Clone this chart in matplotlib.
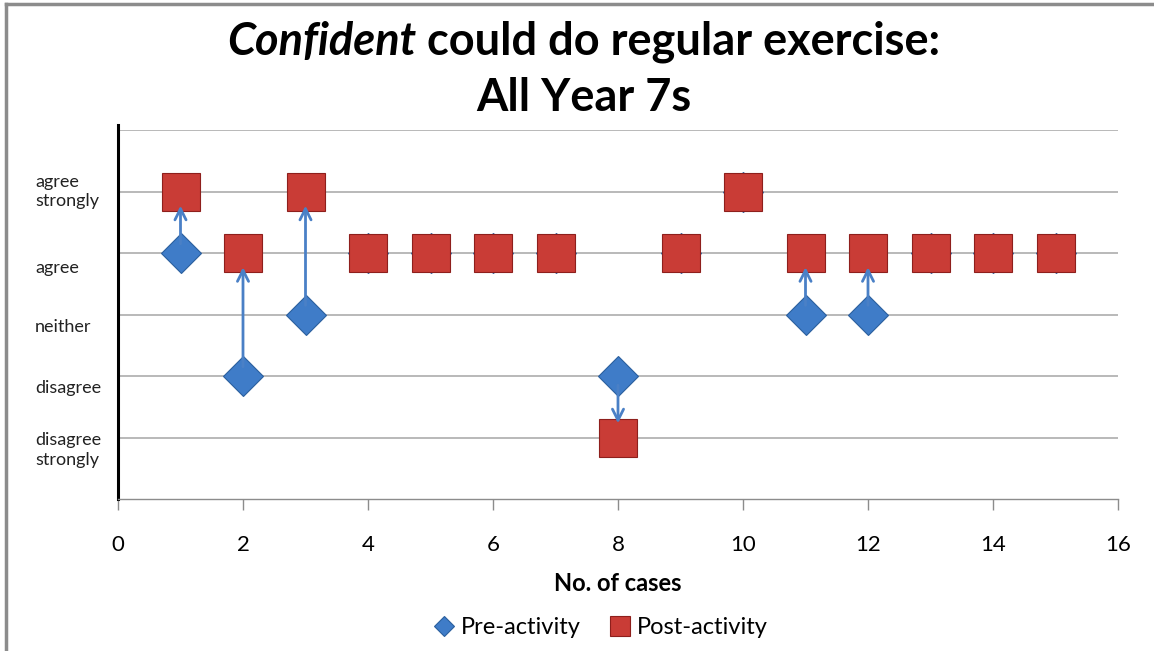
import matplotlib.pyplot as plt
from matplotlib.lines import Line2D

# survey scale: 1 = disagree strongly ... 5 = agree strongly
categories = ['disagree\nstrongly', 'disagree', 'neither', 'agree', 'agree\nstrongly']
cases = [1, 2, 3, 4, 5, 6, 7, 8, 9, 10, 11, 12, 13, 14, 15]
pre_activity = [4, 2, 3, 4, 4, 4, 4, 2, 4, 5, 3, 3, 4, 4, 4]
post_activity = [5, 4, 5, 4, 4, 4, 4, 1, 4, 5, 4, 4, 4, 4, 4]
x_ticks = [0, 2, 4, 6, 8, 10, 12, 14, 16]

plt.rcParams['font.family'] = ['Lato', 'DejaVu Sans']

fig = plt.figure(figsize=(11.54, 6.51), dpi=100)
ax = fig.add_axes([118 / 1154, 1 - 499 / 651, 1000 / 1154, 369 / 651])

blue = '#3f7cc8'
blue_edge = '#2b5f9e'
red = '#c93c36'
red_edge = '#8e1f1c'

# horizontal gridlines
ax.set_ylim(0, 6)
ax.set_yticks(range(1, 7))
ax.yaxis.grid(True, color='#a6a6a6', linewidth=1.1)
ax.tick_params(axis='y', length=0, labelleft=False)
ax.set_axisbelow(True)

ax.plot(cases, pre_activity, linestyle='none', marker='D', markersize=20,
        color=blue, markeredgecolor=blue_edge, markeredgewidth=0.8, zorder=3,
        label='Pre-activity')
ax.plot(cases, post_activity, linestyle='none', marker='s', markersize=27.5,
        color=red, markeredgecolor=red_edge, markeredgewidth=0.8, zorder=4,
        label='Post-activity')

# arrows where the answer changed
for c, a, b in zip(cases, pre_activity, post_activity):
    if a == b:
        continue
    d = 1 if b > a else -1
    ax.annotate('', xy=(c, b - d * 0.23), xytext=(c, a + d * 0.15),
                arrowprops=dict(arrowstyle='->,head_length=0.8,head_width=0.4',
                                color='#4a80c6', lw=2.0, shrinkA=0, shrinkB=0),
                zorder=5)

# category labels sit a little below their gridline
label_pos = [0.8, 1.8, 2.8, 3.76, 5.0]
for txt, yp in zip(categories, label_pos):
    ax.text(-0.083, yp, txt, transform=ax.get_yaxis_transform(),
            ha='left', va='center', fontsize=13, color='#222222', linespacing=1.3)

ax.set_xlim(0, 16)
ax.set_xticks(x_ticks)
ax.tick_params(axis='x', length=8, width=1, color='#8c8c8c', labelsize=16, pad=18)
ax.set_xlabel('No. of cases', fontsize=17, fontweight='bold', labelpad=12)

for s in ['top', 'right']:
    ax.spines[s].set_visible(False)
ax.spines['left'].set_color('black')
ax.spines['left'].set_linewidth(2.2)
ax.spines['left'].set_bounds(0, 6.08)
ax.spines['bottom'].set_color('#8c8c8c')
ax.spines['bottom'].set_linewidth(1)

# title with the italic word
fig.canvas.draw()
r = fig.canvas.get_renderer()
t1 = fig.text(0, 1 - 42 / 651, 'Confident', fontsize=32.5, fontweight='bold',
              style='italic', va='center', ha='left')
t2 = fig.text(0, 1 - 42 / 651, ' could do regular exercise:', fontsize=32.5,
              fontweight='bold', va='center', ha='left')
w1 = t1.get_window_extent(r).width
w2 = t2.get_window_extent(r).width
x0 = 584 - (w1 + w2) / 2
t1.set_x(x0 / 1154)
t2.set_x((x0 + w1) / 1154)
fig.text(584 / 1154, 1 - 98 / 651, 'All Year 7s', fontsize=32.5, fontweight='bold',
         ha='center', va='center')

ax.legend(loc='center', bbox_to_anchor=(600 / 1154, 1 - 628 / 651),
          bbox_transform=fig.transFigure, ncol=2, frameon=False, fontsize=17,
          markerscale=0.5, handlelength=1.0, handletextpad=0.2, columnspacing=1.2)

# chart area border (top and left only visible in the crop)
fig.add_artist(Line2D([6 / 1154, 6 / 1154], [0, 1 - 4 / 651], transform=fig.transFigure,
                      color='#8c8c8c', linewidth=2.5))
fig.add_artist(Line2D([6 / 1154, 1], [1 - 4 / 651, 1 - 4 / 651], transform=fig.transFigure,
                      color='#8c8c8c', linewidth=2.5))

fig.savefig('out.png', dpi=100)
